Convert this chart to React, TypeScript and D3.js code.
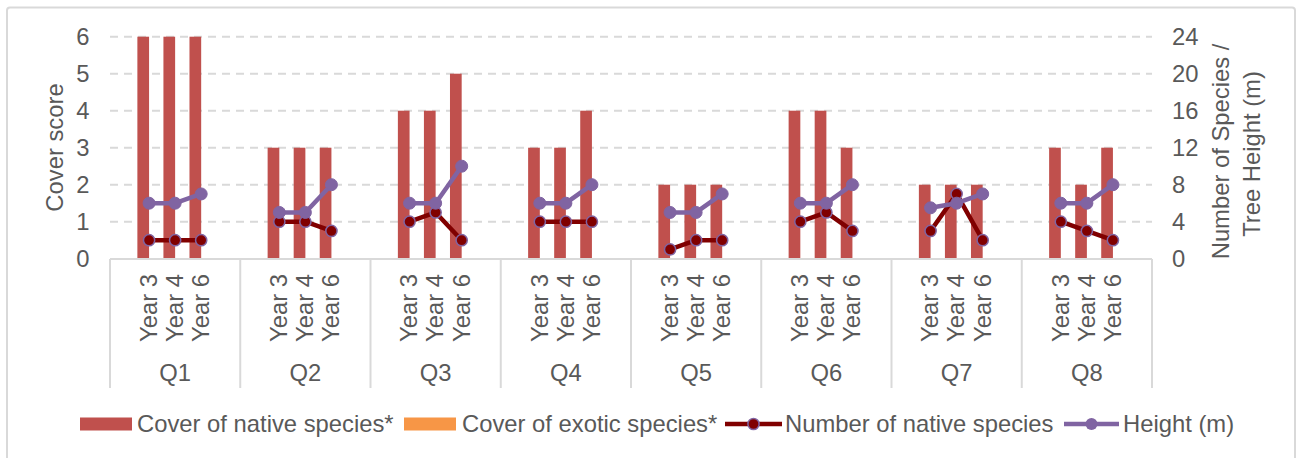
import React from "react";
import * as d3 from "d3";

const groups = ["Q1", "Q2", "Q3", "Q4", "Q5", "Q6", "Q7", "Q8"];
const years = ["Year 3", "Year 4", "Year 6"];
const coverNative = [
  [6, 6, 6], [3, 3, 3], [4, 4, 5], [3, 3, 4],
  [2, 2, 2], [4, 4, 3], [2, 2, 2], [3, 2, 3],
];
const coverExotic = [
  [0, 0, 0], [0, 0, 0], [0, 0, 0], [0, 0, 0],
  [0, 0, 0], [0, 0, 0], [0, 0, 0], [0, 0, 0],
];
const nativeSpecies = [
  [2, 2, 2], [4, 4, 3], [4, 5, 2], [4, 4, 4],
  [1, 2, 2], [4, 5, 3], [3, 7, 2], [4, 3, 2],
];
const heightM = [
  [6, 6, 7], [5, 5, 8], [6, 6, 10], [6, 6, 8],
  [5, 5, 7], [6, 6, 8], [5.5, 6, 7], [6, 6, 8],
];
const leftTicks = [0, 1, 2, 3, 4, 5, 6];
const rightTicks = [0, 4, 8, 12, 16, 20, 24];
const legendLabels = [
  "Cover of native species*",
  "Cover of exotic species*",
  "Number of native species",
  "Height (m)",
];

const W = 1300;
const H = 458;
const FONT = "'Liberation Sans', Arial, sans-serif";
const FS = 23.8;
const TXT = "#595959";
const GRID = "#D9D9D9";
const C_NATIVE = "#C0504D";
const C_EXOTIC = "#F79646";
const C_SPECIES = "#800000";
const C_HEIGHT = "#8064A2";

const plotLeft = 110;
const plotRight = 1152;
const plotTop = 36.7;
const plotBottom = 258.7;

export default function App() {
  const x0 = d3.scaleBand<string>().domain(groups).range([plotLeft, plotRight]).padding(0);
  const x1 = d3.scalePoint<string>().domain(years).range([0, x0.bandwidth()]).padding(1.5);
  const yL = d3.scaleLinear().domain([0, 6]).range([plotBottom, plotTop]);
  const yR = d3.scaleLinear().domain([0, 24]).range([plotBottom, plotTop]);
  const barW = 11.7;
  const line = d3
    .line<[number, number]>()
    .x((d) => d[0])
    .y((d) => d[1]);

  const cx = (gi: number, yi: number) => (x0(groups[gi]) as number) + (x1(years[yi]) as number);

  const legendSwatchX = [80, 404, 725, 1064];
  const legendTextX = [137, 462, 785, 1123];
  const legendY = 424;

  return (
    <div style={{ position: "absolute", left: 0, top: 0 }}>
      <svg width={W} height={H} style={{ display: "block", fontFamily: FONT }}>
        <rect x={0} y={0} width={W} height={H} fill="#fff" />
        <rect x={7} y={7.5} width={1288} height={470} fill="none" stroke={GRID} strokeWidth={2} rx={3} />

        {/* gridlines */}
        {leftTicks.filter((t) => t > 0).map((t) => (
          <line key={"g" + t} x1={plotLeft} x2={plotRight} y1={yL(t)} y2={yL(t)}
            stroke={GRID} strokeWidth={2} strokeDasharray="8,6" />
        ))}

        {/* bars */}
        {groups.map((g, gi) =>
          years.map((yr, yi) => {
            const c = cx(gi, yi);
            const vN = coverNative[gi][yi];
            const vE = coverExotic[gi][yi];
            return (
              <g key={g + yr}>
                <rect x={c - barW} y={yL(vN)} width={barW} height={yL(0) - yL(vN)} fill={C_NATIVE} />
                {vE > 0 && (
                  <rect x={c} y={yL(vE)} width={barW} height={yL(0) - yL(vE)} fill={C_EXOTIC} />
                )}
              </g>
            );
          })
        )}

        {/* category axis */}
        <line x1={plotLeft} x2={plotRight} y1={259} y2={259} stroke={GRID} strokeWidth={2} />
        {groups.map((g) => (
          <line key={"s" + g} x1={x0(g) as number} x2={x0(g) as number} y1={259} y2={388} stroke={GRID} strokeWidth={2} />
        ))}
        <line x1={plotRight} x2={plotRight} y1={259} y2={388} stroke={GRID} strokeWidth={2} />

        {groups.map((g, gi) =>
          years.map((yr, yi) => (
            <text key={"yl" + g + yr} transform={`translate(${cx(gi, yi) - 0.5},274) rotate(-90)`}
              textAnchor="end" dy="0.35em" fontSize={FS} fill={TXT}>{yr}</text>
          ))
        )}
        {groups.map((g) => (
          <text key={"ql" + g} x={(x0(g) as number) + x0.bandwidth() / 2} y={381}
            textAnchor="middle" fontSize={FS} fill={TXT}>{g}</text>
        ))}

        {/* left axis ticks */}
        {leftTicks.map((t) => (
          <text key={"lt" + t} x={89.5} y={yL(t)} dy="0.35em" textAnchor="end" fontSize={FS} fill={TXT}>{t}</text>
        ))}
        {rightTicks.map((t) => (
          <text key={"rt" + t} x={1172} y={yR(t)} dy="0.35em" textAnchor="start" fontSize={FS} fill={TXT}>{t}</text>
        ))}

        {/* axis titles */}
        <text transform="translate(55,147.5) rotate(-90)" textAnchor="middle" dy="0.35em" fontSize={FS} fill={TXT}>Cover score</text>
        <text transform="translate(1221,151.5) rotate(-90)" textAnchor="middle" dy="0.35em" fontSize={FS} fill={TXT}>Number of Species /</text>
        <text transform="translate(1252,154) rotate(-90)" textAnchor="middle" dy="0.35em" fontSize={FS} fill={TXT}>Tree Height (m)</text>

        {/* number of native species */}
        {groups.map((g, gi) => {
          const pts: [number, number][] = years.map((_, yi) => [cx(gi, yi), yR(nativeSpecies[gi][yi])]);
          return (
            <g key={"ns" + g}>
              <path d={line(pts) as string} fill="none" stroke={C_SPECIES} strokeWidth={4.5} strokeLinejoin="round" />
              {pts.map((p, i) => (
                <circle key={i} cx={p[0]} cy={p[1]} r={5.6} fill={C_SPECIES} stroke={C_HEIGHT} strokeWidth={1.5} />
              ))}
            </g>
          );
        })}

        {/* height */}
        {groups.map((g, gi) => {
          const pts: [number, number][] = years.map((_, yi) => [cx(gi, yi), yR(heightM[gi][yi])]);
          return (
            <g key={"h" + g}>
              <path d={line(pts) as string} fill="none" stroke={C_HEIGHT} strokeWidth={4.5} strokeLinejoin="round" />
              {pts.map((p, i) => (
                <circle key={i} cx={p[0]} cy={p[1]} r={6} fill={C_HEIGHT} stroke={C_HEIGHT} strokeWidth={1} />
              ))}
            </g>
          );
        })}

        {/* legend */}
        <rect x={legendSwatchX[0]} y={legendY - 6.5} width={52} height={13} fill={C_NATIVE} />
        <rect x={legendSwatchX[1]} y={legendY - 6.5} width={52} height={13} fill={C_EXOTIC} />
        <line x1={legendSwatchX[2]} x2={legendSwatchX[2] + 57} y1={legendY} y2={legendY} stroke={C_SPECIES} strokeWidth={4.5} />
        <circle cx={legendSwatchX[2] + 28.5} cy={legendY} r={5.6} fill={C_SPECIES} stroke={C_HEIGHT} strokeWidth={1.5} />
        <line x1={legendSwatchX[3]} x2={legendSwatchX[3] + 55} y1={legendY} y2={legendY} stroke={C_HEIGHT} strokeWidth={4.5} />
        <circle cx={legendSwatchX[3] + 27.5} cy={legendY} r={6} fill={C_HEIGHT} />
        {legendLabels.map((l, i) => (
          <text key={"lg" + i} x={legendTextX[i]} y={legendY} dy="0.35em" fontSize={FS} fill={TXT}>{l}</text>
        ))}
      </svg>
    </div>
  );
}
